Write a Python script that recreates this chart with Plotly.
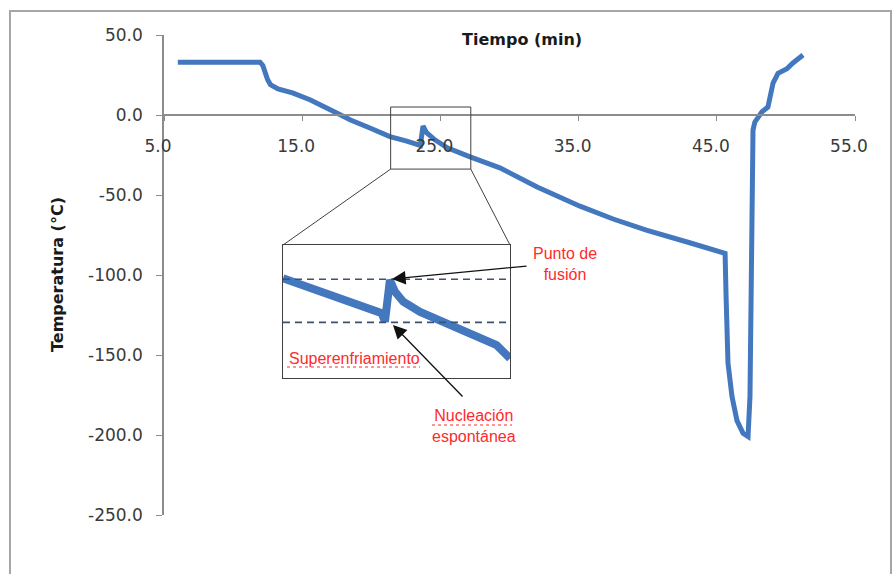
import plotly.graph_objects as go

# Cooling curve: time (min) vs temperature (°C)
tiempo = [6.0, 11.95, 12.15, 12.3, 12.5, 12.7, 13.0, 13.25, 14.3, 15.6, 17.5, 18.5, 19.9, 21.35,
          22.5, 23.55, 23.74, 24.0, 24.6, 25.5, 27.1, 29.3, 32.0, 35.1, 37.5,
          39.9, 43.1, 45.45, 45.6, 45.67, 45.81, 46.1, 46.46, 46.9, 47.26,
          47.4, 47.47, 47.55, 47.62, 47.75, 47.91, 48.27, 48.7, 48.85, 49.07, 49.43,
          50.08, 50.51, 51.24]
temperatura = [33.0, 33.0, 31.0, 26.0, 22.0, 19.0, 17.0, 16.3, 13.8, 9.4, 1.2, -3.1, -8.1, -13.5,
               -16.2, -19.0, -6.9, -11.0, -15.5, -20.5, -26.0, -33.0, -45.0, -57.0, -65.0,
               -72.0, -80.0, -86.0, -86.5, -113.0, -155.0, -176.0, -191.0, -199.0, -201.0,
               -176.0, -113.0, -51.0, -9.4, -4.5, -2.0, 2.0, 5.0, 11.0, 20.0, 26.0,
               29.0, 32.5, 37.5]

# Detail of the supercooling / nucleation event
detalle_tiempo = [19.0, 20.19, 21.37, 22.54, 23.35, 23.49, 23.71, 23.93, 24.3,
                  25.04, 26.06, 27.24, 28.41, 29.0]
detalle_temperatura = [-6.0, -8.9, -11.7, -14.3, -16.0, -18.4, -6.5, -9.8, -12.7,
                       -15.6, -18.4, -21.3, -25.1, -28.9]
nivel_fusion = -6.3
nivel_nucleacion = -18.6

ticks_x = [5, 15, 25, 35, 45, 55]
ticks_y = [-250, -200, -150, -100, -50, 0, 50]

X_RANGE = [5, 55]
Y_RANGE = [-250, 50]
DET_X = [19.0, 29.0]
DET_Y = [-34.5, 3.5]
recuadro = dict(t0=21.4, t1=27.2, T0=-33.8, T1=5.0)

W, H = 894, 574
ML, MR, MT, MB = 164, 39, 35, 59
PW, PH = W - ML - MR, H - MT - MB

AZUL = "#4378bf"
GRIS = "#8c8c8c"
ROJO = "#ff2a2a"
TXT = "#3a3a3a"


def fx(pix):
    return (pix - ML) / PW


def fy(pix):
    return (H - MB - pix) / PH


def dx(t):
    return (t - X_RANGE[0]) / (X_RANGE[1] - X_RANGE[0])


def dy(T):
    return (T - Y_RANGE[0]) / (Y_RANGE[1] - Y_RANGE[0])


inset_x = [fx(283), fx(510)]
inset_y = [fy(378), fy(245)]

fig = go.Figure()
fig.add_trace(go.Scatter(x=tiempo, y=temperatura, mode="lines",
                         line=dict(color=AZUL, width=5),
                         xaxis="x", yaxis="y", hoverinfo="skip", showlegend=False))
fig.add_trace(go.Scatter(x=detalle_tiempo, y=detalle_temperatura, mode="lines",
                         line=dict(color=AZUL, width=8),
                         xaxis="x2", yaxis="y2", hoverinfo="skip", showlegend=False))

shapes = []
# outer chart frame
shapes.append(dict(type="rect", xref="paper", yref="paper",
                   x0=fx(10), x1=fx(891), y0=fy(620), y1=fy(11),
                   line=dict(color="#a6a6a6", width=2)))
# zoom region on the main curve
shapes.append(dict(type="rect", xref="x", yref="y",
                   x0=recuadro["t0"], x1=recuadro["t1"],
                   y0=recuadro["T0"], y1=recuadro["T1"],
                   line=dict(color="#404040", width=1)))
# connectors from the zoom region to the detail panel
shapes.append(dict(type="line", xref="paper", yref="paper",
                   x0=dx(recuadro["t0"]), y0=dy(recuadro["T0"]),
                   x1=inset_x[0], y1=inset_y[1],
                   line=dict(color="#404040", width=1)))
shapes.append(dict(type="line", xref="paper", yref="paper",
                   x0=dx(recuadro["t1"]), y0=dy(recuadro["T0"]),
                   x1=inset_x[1], y1=inset_y[1],
                   line=dict(color="#404040", width=1)))
# reference levels in the detail panel
for nivel in (nivel_fusion, nivel_nucleacion):
    shapes.append(dict(type="line", xref="x2 domain", yref="y2",
                       x0=0, x1=1, y0=nivel, y1=nivel,
                       line=dict(color="#3d5170", width=1.6, dash="7px,5px")))
# spell-check style underlines
shapes.append(dict(type="line", xref="paper", yref="paper",
                   x0=fx(287), x1=fx(420), y0=fy(367), y1=fy(367),
                   line=dict(color=ROJO, width=1, dash="dot")))
shapes.append(dict(type="line", xref="paper", yref="paper",
                   x0=fx(432), x1=fx(512), y0=fy(425), y1=fy(425),
                   line=dict(color=ROJO, width=1, dash="dot")))

red_font = dict(family="Liberation Sans, Arial, sans-serif", size=16, color=ROJO)
title_font = dict(family="DejaVu Sans", size=16, color="#1a1a1a")
annotations = [
    dict(text="<b>Tiempo (min)</b>", xref="paper", yref="paper",
         x=fx(522), y=fy(40), xanchor="center", yanchor="middle",
         showarrow=False, font=title_font),
    dict(text="<b>Temperatura (°C)</b>", xref="paper", yref="paper",
         x=fx(57), y=fy(275), xanchor="center", yanchor="middle",
         showarrow=False, textangle=-90, font=title_font),
    dict(text="Punto de<br>fusión", xref="paper", yref="paper",
         x=fx(565), y=fy(264), xanchor="center", yanchor="middle",
         showarrow=False, font=red_font),
    dict(text="Nucleación<br>espontánea", xref="paper", yref="paper",
         x=fx(474), y=fy(426), xanchor="center", yanchor="middle",
         showarrow=False, font=red_font),
    dict(text="Superenfriamiento", xref="paper", yref="paper",
         x=fx(287), y=fy(358), xanchor="left", yanchor="middle",
         showarrow=False, font=red_font),
    dict(text="", xref="paper", yref="paper", x=fx(392), y=fy(279),
         showarrow=True, ax=136, ay=-13, axref="pixel", ayref="pixel",
         arrowhead=2, arrowsize=2.1, arrowwidth=1.3, arrowcolor="#111111",
         standoff=0),
    dict(text="", xref="paper", yref="paper", x=fx(393), y=fy(325),
         showarrow=True, ax=71, ay=73, axref="pixel", ayref="pixel",
         arrowhead=2, arrowsize=2.1, arrowwidth=1.3, arrowcolor="#111111",
         standoff=0),
]

tick_font = dict(family="DejaVu Sans", size=17, color=TXT)

fig.update_layout(
    width=W, height=H,
    margin=dict(l=ML, r=MR, t=MT, b=MB),
    paper_bgcolor="white", plot_bgcolor="white",
    showlegend=False,
    xaxis=dict(range=X_RANGE, domain=[0, 1], anchor="free",
               position=dy(0),
               tickvals=ticks_x, ticktext=[f"{v:.1f}" for v in ticks_x],
               ticks="outside", ticklen=5, tickcolor=GRIS, tickwidth=1,
               showline=True, linecolor=GRIS, linewidth=1.5,
               showgrid=False, zeroline=False, tickfont=tick_font,
               ticklabelstandoff=11, ticklabelshift=-6),
    yaxis=dict(range=Y_RANGE, domain=[0, 1], anchor="x",
               tickvals=ticks_y, ticktext=[f"{v:.1f}" for v in ticks_y],
               ticks="outside", ticklen=6, tickcolor=GRIS, tickwidth=1,
               showline=True, linecolor=GRIS, linewidth=1.5,
               showgrid=False, zeroline=False, tickfont=tick_font,
               ticklabelstandoff=10),
    xaxis2=dict(range=DET_X, domain=inset_x, anchor="y2",
                showline=True, mirror=True, linecolor="#404040", linewidth=1,
                showticklabels=False, ticks="", showgrid=False, zeroline=False),
    yaxis2=dict(range=DET_Y, domain=inset_y, anchor="x2",
                showline=True, mirror=True, linecolor="#404040", linewidth=1,
                showticklabels=False, ticks="", showgrid=False, zeroline=False),
    shapes=shapes,
    annotations=annotations,
)

fig.write_html("out.html")
